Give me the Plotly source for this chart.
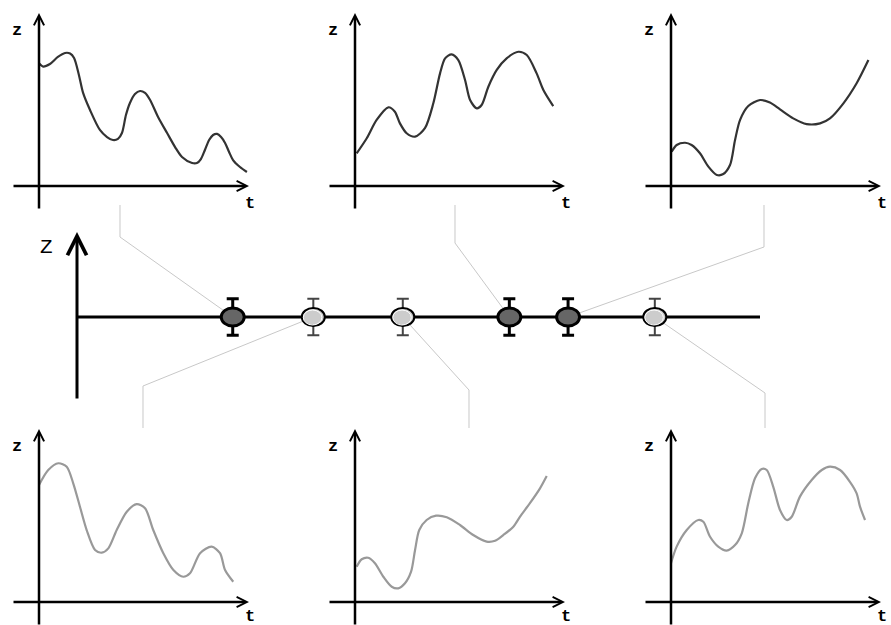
import plotly.graph_objects as go

W, H = 891, 625

# ---------------- data ----------------
# upper row: measured trajectories z(t)
t_a = [0, 2.0, 5.2, 9.0, 12.4, 14.8, 16.7, 19.0, 21.0, 24.3, 29.0, 32.4, 35.2, 37.6, 39.5, 41.4, 43.3, 45.7, 48.1, 50.5,
       52.9, 56.7, 61.0, 64.8, 68.1, 72.9, 75.2, 77.1, 79.0, 81.0, 82.9, 84.8, 86.7, 88.6, 90.5, 92.4, 95.7, 99.0]
z_a = [70.9, 69.0, 70.5, 74.6, 76.9, 76.6, 74.0, 64.2, 53.8, 43.9, 32.4, 28.3, 26.6, 27.2, 30.6, 41.0, 48.0, 53.2, 54.9, 53.8,
       49.7, 39.9, 30.6, 22.5, 16.8, 13.3, 13.3, 15.6, 20.8, 26.6, 29.5, 30.1, 28.3, 24.9, 19.7, 15.0, 11.0, 8.1]

t_b = [0.8, 5.6, 10.3, 15.9, 19.0, 21.4, 24.6, 28.6, 33.3, 37.3, 40.5, 42.9, 46.0, 49.2, 52.4, 54.8, 58.0, 60.3, 63.5,
       67.5, 72.2, 77.8, 81.8, 86.5, 89.7, 94.4]
z_b = [18.9, 27.6, 38.2, 45.5, 42.9, 36.2, 30.5, 28.5, 33.4, 47.8, 65.1, 73.8, 76.1, 72.8, 61.3, 49.7, 44.9, 46.8, 57.4,
       67.1, 73.8, 77.6, 75.7, 65.1, 55.5, 46.2]

t_c = [0.3, 2.7, 6.7, 9.8, 13.8, 17.8, 21.8, 24.9, 28.1, 30.5, 32.9, 36.8, 42.4, 47.1, 51.9, 58.2, 64.6, 71.0, 75.7,
       82.1, 88.4, 94.0]
z_c = [19.8, 23.7, 25.0, 23.7, 18.9, 11.2, 6.4, 6.9, 12.1, 26.6, 38.2, 46.2, 49.7, 48.2, 44.3, 39.1, 35.8, 36.2, 39.1,
       47.8, 59.4, 72.8]

# lower row: candidate trajectories z(t)
t_d = [0, 4.4, 9.2, 13.2, 16.3, 19.5, 22.7, 26.7, 29.9, 33.0, 37.0, 41.8, 46.5, 50.5, 54.4, 59.2, 64.0, 68.7, 71.9,
       76.7, 82.2, 86.2, 88.6, 92.5]
z_d = [67.6, 76.3, 80.2, 78.2, 68.6, 55.1, 41.6, 30.1, 28.5, 31.0, 41.6, 52.2, 56.6, 54.2, 41.6, 28.2, 18.5, 14.6, 16.6,
       28.2, 32.0, 28.2, 18.5, 11.7]

t_e = [0.8, 3.2, 6.3, 9.5, 13.5, 17.5, 20.6, 23.8, 26.7, 28.6, 30.6, 34.1, 38.6, 43.7, 50.0, 56.3, 62.7, 66.7, 70.6,
       75.4, 78.6, 83.3, 88.1, 91.3]
z_e = [20.4, 24.7, 25.6, 22.4, 14.6, 8.8, 7.9, 10.8, 17.5, 30.1, 41.6, 47.4, 49.9, 49.0, 44.5, 38.7, 34.9, 35.4, 38.7,
       43.5, 49.3, 57.1, 65.7, 72.8]

t_f = [0, 2.7, 7.5, 13.0, 15.4, 18.6, 22.5, 26.5, 30.5, 33.7, 36.8, 40.0, 43.2, 45.6, 48.7, 51.9, 55.1, 57.5, 61.4,
       67.0, 71.8, 75.7, 80.5, 85.2, 88.4, 90.0, 92.4]
z_f = [22.4, 32.0, 41.6, 47.4, 46.4, 37.7, 32.0, 29.7, 32.9, 39.7, 57.1, 71.5, 76.9, 76.3, 66.6, 53.2, 47.4, 49.3, 60.9,
       70.5, 76.3, 78.2, 76.3, 69.5, 62.8, 55.1, 47.4]

# central axis: observation positions, error half-widths, kind
obs_t = [2.28, 3.46, 4.77, 6.33, 7.19, 8.46]
obs_err = [0.22, 0.22, 0.22, 0.22, 0.22, 0.22]
obs_kind = ["dark", "light", "light", "dark", "dark", "light"]

# ---------------- layout geometry (pixels) ----------------
SX, SZ = 2.1, 1.73            # px per unit in the small panels
CX0, CY0 = 77, 317            # central axis origin
CSX, CSY = 68.3, 83.0         # px per unit on the central axis

panels = [
    # origin px, curve, colour, linked observation, connector x, bend y
    dict(o=(39, 186), t=t_a, z=z_a, col="#333333", obs=0, cx=120, by=237, top=True),
    dict(o=(355, 186), t=t_b, z=z_b, col="#333333", obs=3, cx=455, by=243, top=True),
    dict(o=(671, 186), t=t_c, z=z_c, col="#333333", obs=4, cx=764, by=247, top=True),
    dict(o=(39, 602), t=t_d, z=z_d, col="#999999", obs=1, cx=143, by=386, top=False),
    dict(o=(355, 602), t=t_e, z=z_e, col="#999999", obs=2, cx=469, by=390, top=False),
    dict(o=(671, 602), t=t_f, z=z_f, col="#999999", obs=5, cx=765, by=393, top=False),
]


def pap(px, py):
    return px / W, 1 - py / H


fig = go.Figure()
layout = dict(width=W, height=H, margin=dict(l=0, r=0, t=0, b=0),
              paper_bgcolor="white", plot_bgcolor="rgba(0,0,0,0)", showlegend=False)
annotations, shapes = [], []

hidden = dict(visible=False, showgrid=False, zeroline=False, fixedrange=True)

for i, p in enumerate(panels, start=1):
    ox, oy = p["o"]
    left, right = ox - 30, ox + 216
    top, bottom = oy - 178, min(oy + 26, H)
    xk = "x" if i == 1 else f"x{i}"
    yk = "y" if i == 1 else f"y{i}"
    layout["xaxis" if i == 1 else f"xaxis{i}"] = dict(
        hidden, domain=[left / W, right / W], anchor=yk,
        range=[(left - ox) / SX, (right - ox) / SX])
    layout["yaxis" if i == 1 else f"yaxis{i}"] = dict(
        hidden, domain=[1 - bottom / H, 1 - top / H], anchor=xk,
        range=[(oy - bottom) / SZ, (oy - top) / SZ])

    fig.add_trace(go.Scatter(x=p["t"], y=p["z"], xaxis=xk, yaxis=yk, mode="lines",
                             line=dict(color=p["col"], width=2.2, shape="spline", smoothing=0.8),
                             hoverinfo="skip"))

    arrow = dict(xref=xk, yref=yk, axref=xk, ayref=yk, text="", showarrow=True,
                 arrowhead=5, arrowsize=0.8, arrowwidth=2.5, arrowcolor="black", standoff=0)
    annotations.append(dict(arrow, x=100, y=0, ax=-27 / SX, ay=0))
    annotations.append(dict(arrow, x=0, y=100, ax=0, ay=-24 / SZ))
    lab = dict(xref=xk, yref=yk, showarrow=False,
               font=dict(family="Liberation Mono", size=17, color="black"))
    annotations.append(dict(lab, x=-10.4, y=90, text="<b>z</b>"))
    annotations.append(dict(lab, x=100.5, y=-10 if p["top"] else -8.2, text="<b>t</b>"))

    # grey connector from the panel to its observation on the central axis
    mx, my = CX0 + obs_t[p["obs"]] * CSX, CY0
    if p["top"]:
        pts = [(p["cx"], 205), (p["cx"], p["by"]), (mx, my)]
    else:
        pts = [(mx, my), (p["cx"], p["by"]), (p["cx"], 428)]
    path = "M " + " L ".join(f"{pap(a, b)[0]:.5f},{pap(a, b)[1]:.5f}" for a, b in pts)
    shapes.append(dict(type="path", path=path, xref="paper", yref="paper", layer="below",
                       line=dict(color="#c8c8c8", width=1)))

# central axis
cl, cr, ct, cb = 60, 790, 225, 410
layout["xaxis7"] = dict(hidden, domain=[cl / W, cr / W], anchor="y7",
                        range=[(cl - CX0) / CSX, (cr - CX0) / CSX])
layout["yaxis7"] = dict(hidden, domain=[1 - cb / H, 1 - ct / H], anchor="x7",
                        range=[(CY0 - cb) / CSY, (CY0 - ct) / CSY])

shapes.append(dict(type="line", xref="x7", yref="y7", x0=0, x1=10, y0=0, y1=0,
                   layer="below", line=dict(color="black", width=3)))
annotations.append(dict(xref="x7", yref="y7", axref="x7", ayref="y7", x=0, y=(CY0 - 232) / CSY,
                        ax=0, ay=-1.0, text="", showarrow=True, arrowhead=5, arrowsize=1.25,
                        arrowwidth=3, arrowcolor="black", standoff=0))
annotations.append(dict(xref="paper", yref="paper", x=37.7 / W, y=1 - 247 / H, text="Z",
                        showarrow=False, font=dict(family="Liberation Mono", size=21, color="black")))

styles = {
    "dark": dict(fill="#666666", line="black", lw=3, eb="black", ebw=3),
    "light": dict(fill="#cccccc", line="black", lw=2, eb="#444444", ebw=2),
}
for kind in ("dark", "light"):
    xs = [t for t, k in zip(obs_t, obs_kind) if k == kind]
    es = [e for e, k in zip(obs_err, obs_kind) if k == kind]
    st = styles[kind]
    fig.add_trace(go.Scatter(x=xs, y=[0] * len(xs), xaxis="x7", yaxis="y7", mode="markers",
                             marker=dict(size=1, color="rgba(0,0,0,0)"),
                             error_y=dict(type="data", array=es, color=st["eb"],
                                          thickness=st["ebw"], width=6),
                             hoverinfo="skip"))

for t, k in zip(obs_t, obs_kind):
    st = styles[k]
    shapes.append(dict(type="circle", xref="x7", yref="y7", xsizemode="pixel", ysizemode="pixel",
                       xanchor=t, yanchor=0, x0=-11.5, x1=11.5, y0=-9, y1=9,
                       fillcolor=st["fill"], line=dict(color=st["line"], width=st["lw"])))
    if k == "light":
        shapes.append(dict(type="circle", xref="x7", yref="y7", xsizemode="pixel", ysizemode="pixel",
                           xanchor=t, yanchor=0, x0=-10, x1=8.5, y0=-8, y1=7,
                           line=dict(color="white", width=1)))

layout["annotations"] = annotations
layout["shapes"] = shapes
fig.update_layout(**layout)
fig.write_html("out.html")
